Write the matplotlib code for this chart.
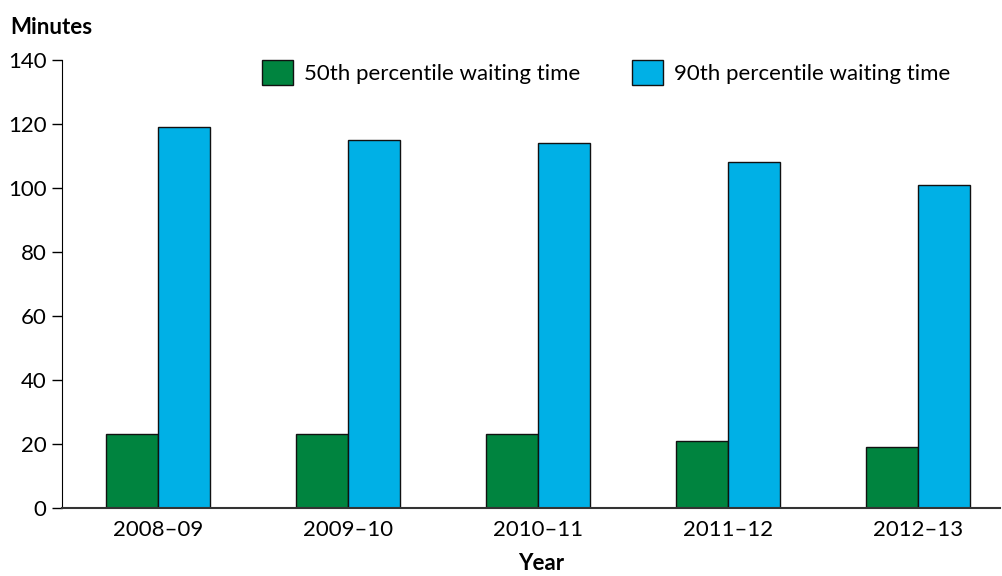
import matplotlib
matplotlib.use("Agg")
import matplotlib.pyplot as plt
import numpy as np

years = ["2008–09", "2009–10", "2010–11", "2011–12", "2012–13"]
p50 = [23, 23, 23, 21, 19]
p90 = [119, 115, 114, 108, 101]
series_labels = ["50th percentile waiting time", "90th percentile waiting time"]
yticks = [0, 20, 40, 60, 80, 100, 120, 140]

plt.rcParams['font.family'] = ['Lato', 'DejaVu Sans']
FS = 16

fig = plt.figure(figsize=(10.03, 5.76), dpi=100)
ax = fig.add_axes([62/1003, 1-508/576, (1000-62)/1003, (508-60)/576])

x = np.arange(len(years))
w = 0.274
green = "#00843F"
blue = "#00B0E6"
ax.bar(x - w/2, p50, width=w, color=green, edgecolor="#111111", linewidth=1, label=series_labels[0])
ax.bar(x + w/2, p90, width=w, color=blue, edgecolor="#111111", linewidth=1, label=series_labels[1])

ax.set_xlim(-0.505, 4.43)
ax.set_ylim(0, 140)
ax.set_yticks(yticks)
ax.set_xticks(x)
ax.set_xticklabels(years)
ax.tick_params(axis='x', length=0, pad=9, labelsize=FS)
ax.tick_params(axis='y', length=7, width=1, pad=4, labelsize=FS, direction='out')
for s in ["top", "right"]:
    ax.spines[s].set_visible(False)
ax.spines["left"].set_color("black")
ax.spines["bottom"].set_color("#333333")
ax.spines["bottom"].set_linewidth(1.5)

fig.text(10/1003, 1-27/576, "Minutes", fontsize=FS, fontweight='bold', va='center', ha='left')
fig.text(541/1003, 1-564/576, "Year", fontsize=FS, fontweight='bold', va='center', ha='center')

leg = ax.legend(ncol=2, loc='upper left', bbox_to_anchor=(262/1003, 1-60/576), bbox_transform=fig.transFigure,
                frameon=False, fontsize=FS, handlelength=1.4, handleheight=1.35,
                handletextpad=0.5, columnspacing=2.3, borderpad=0, borderaxespad=0)

fig.savefig("out.png", dpi=100)
